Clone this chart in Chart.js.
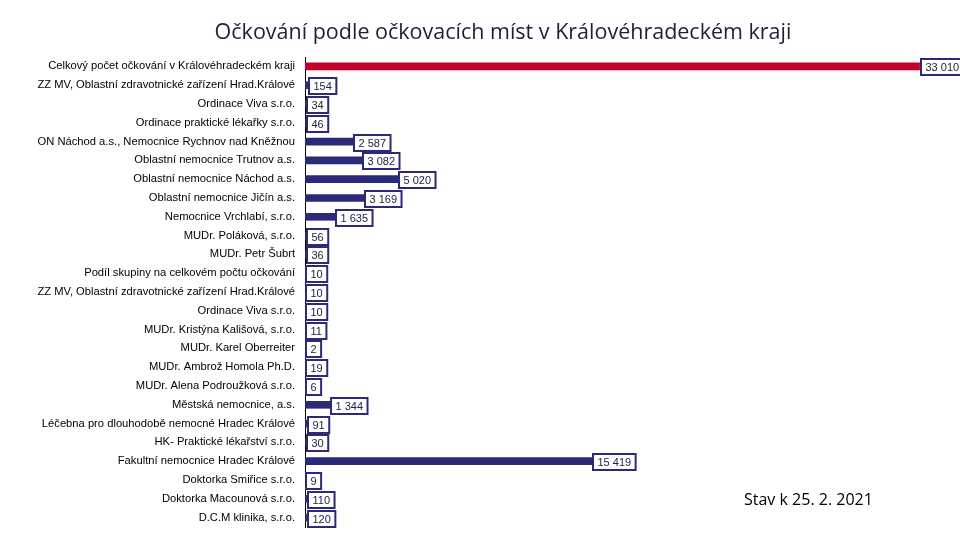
<!DOCTYPE html>
<html>
<head>
<meta charset="utf-8">
<script src="https://cdn.jsdelivr.net/npm/chart.js@4"></script>
<style>
  html, body { margin: 0; padding: 0; background: #fff; }
  #wrap { position: relative; width: 960px; height: 540px; }
  #title { position: absolute; left: 0; width: 1006px; top: 16px; text-align: center; z-index: 2;
           font-family: "Open Sans", sans-serif; font-size: 21.5px; color: #1e1e3c; }
  #stav { position: absolute; left: 744px; top: 487px; font-family: "Open Sans", sans-serif; z-index: 2;
          font-size: 16px; line-height: 24px; color: #000; }
  canvas { position: absolute; left: 0; top: 0; z-index: 1; }
</style>
</head>
<body>
<div id="wrap">
  <canvas id="c" width="960" height="540"></canvas>
  <div id="title">Očkování podle očkovacích míst v Královéhradeckém kraji</div>
  <div id="stav">Stav k 25. 2. 2021</div>
</div>
<script>
const categories = [
  "Celkový počet očkování v Královéhradeckém kraji",
  "ZZ MV, Oblastní zdravotnické zařízení Hrad.Králové",
  "Ordinace Viva s.r.o.",
  "Ordinace praktické lékařky s.r.o.",
  "ON Náchod a.s., Nemocnice Rychnov nad Kněžnou",
  "Oblastní nemocnice Trutnov a.s.",
  "Oblastní nemocnice Náchod a.s.",
  "Oblastní nemocnice Jičín a.s.",
  "Nemocnice Vrchlabí, s.r.o.",
  "MUDr. Poláková, s.r.o.",
  "MUDr. Petr Šubrt",
  "Podíl skupiny na celkovém počtu očkování",
  "ZZ MV, Oblastní zdravotnické zařízení Hrad.Králové",
  "Ordinace Viva s.r.o.",
  "MUDr. Kristýna Kališová, s.r.o.",
  "MUDr. Karel Oberreiter",
  "MUDr. Ambrož Homola Ph.D.",
  "MUDr. Alena Podroužková s.r.o.",
  "Městská nemocnice, a.s.",
  "Léčebna pro dlouhodobě nemocné Hradec Králové",
  "HK- Praktické lékařství s.r.o.",
  "Fakultní nemocnice Hradec Králové",
  "Doktorka Smiřice s.r.o.",
  "Doktorka Macounová s.r.o.",
  "D.C.M klinika, s.r.o."
];
const values = [33010, 154, 34, 46, 2587, 3082, 5020, 3169, 1635, 56, 36, 10, 10, 10, 11, 2, 19, 6, 1344, 91, 30, 15419, 9, 110, 120];
const totalIndex = 0;

const RED = "#c0002a";
const NAVY = "#2b2a78";
const barColors = values.map((v, i) => i === totalIndex ? RED : NAVY);

function fmt(v) {
  return String(v).replace(/\B(?=(\d{3})+(?!\d))/g, " ");
}

const valueLabels = {
  id: "valueLabels",
  afterDatasetsDraw(chart) {
    const ctx = chart.ctx;
    const meta = chart.getDatasetMeta(0);
    ctx.save();
    ctx.font = "11px 'Liberation Sans', sans-serif";
    ctx.textBaseline = "middle";
    ctx.textAlign = "left";
    meta.data.forEach((bar, i) => {
      const txt = fmt(values[i]);
      const w = ctx.measureText(txt).width + 9;
      const h = 16;
      const x = Math.round(bar.x) + 1;
      const y = Math.round(bar.y) + 1 - h / 2;
      ctx.fillStyle = "#fff";
      ctx.fillRect(x, y, w, h);
      ctx.lineWidth = 2;
      ctx.strokeStyle = NAVY;
      ctx.strokeRect(x, y, w, h);
      ctx.fillStyle = "#22224a";
      ctx.fillText(txt, x + 4.5, y + h / 2 + 0.5);
    });
    ctx.restore();
  }
};

new Chart(document.getElementById("c"), {
  type: "bar",
  data: {
    labels: categories,
    datasets: [{
      data: values,
      backgroundColor: barColors,
      borderWidth: 0,
      barThickness: 7
    }]
  },
  options: {
    indexAxis: "y",
    responsive: false,
    animation: false,
    layout: { padding: { left: 0, top: 57, right: 22, bottom: 13 } },
    plugins: { legend: { display: false }, tooltip: { enabled: false }, title: { display: false } },
    scales: {
      x: { display: false, min: 0, max: 34000 },
      y: {
        grid: { display: false, drawTicks: false },
        border: { display: true, color: "#000", width: 1 },
        ticks: {
          autoSkip: false,
          padding: 10,
          color: "#000",
          font: { family: "'Liberation Sans', sans-serif", size: 11.2 }
        },
        afterFit(scale) {
          scale.width = 305;
          scale.paddingTop = 0;
          scale.paddingBottom = 0;
        }
      }
    }
  },
  plugins: [valueLabels]
});
</script>
</body>
</html>
